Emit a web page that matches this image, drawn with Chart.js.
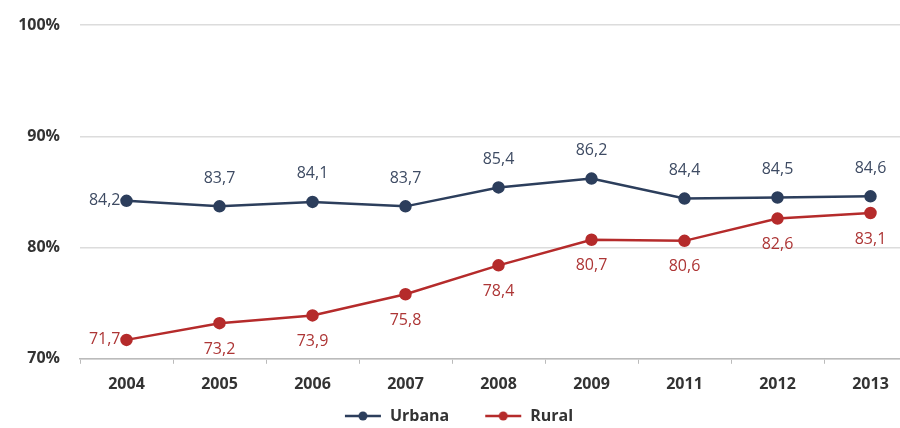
<!DOCTYPE html>
<html>
<head>
<meta charset="utf-8">
<script src="https://cdn.jsdelivr.net/npm/chart.js@4"></script>
<style>
  html, body { margin: 0; padding: 0; background: #fff; overflow: hidden; }
  #wrap { position: absolute; left: 0; top: 0; width: 925px; height: 428px; }
</style>
</head>
<body>
<div id="wrap"><canvas id="chart"></canvas></div>
<script>
var years = ["2004", "2005", "2006", "2007", "2008", "2009", "2011", "2012", "2013"];
var urbana = [84.2, 83.7, 84.1, 83.7, 85.4, 86.2, 84.4, 84.5, 84.6];
var rural = [71.7, 73.2, 73.9, 75.8, 78.4, 80.7, 80.6, 82.6, 83.1];
var yTicks = [70, 80, 90, 100];

var blue = "#2c3e5c";
var red = "#b52b2b";

function legendIcon(color) {
    var c = document.createElement("canvas");
    c.width = 38; c.height = 12;
    var ctx = c.getContext("2d");
    ctx.strokeStyle = color;
    ctx.lineWidth = 2.5;
    ctx.beginPath(); ctx.moveTo(1, 6); ctx.lineTo(37, 6); ctx.stroke();
    ctx.fillStyle = color;
    ctx.beginPath(); ctx.arc(19, 6, 4.5, 0, Math.PI * 2); ctx.fill();
    return c;
}

// draws the value labels next to each point
var valueLabels = {
    id: "valueLabels",
    afterDatasetsDraw: function (chart) {
        var ctx = chart.ctx;
        ctx.save();
        ctx.font = "16px 'Open Sans', sans-serif";
        ctx.textBaseline = "middle";
        chart.data.datasets.forEach(function (ds, di) {
            var meta = chart.getDatasetMeta(di);
            meta.data.forEach(function (pt, i) {
                var txt = ds.data[i].toFixed(1).replace(".", ",");
                ctx.fillStyle = ds.labelColor;
                if (i === 0) {
                    ctx.textAlign = "right";
                    ctx.fillText(txt, pt.x - 6, pt.y);
                } else {
                    ctx.textAlign = "center";
                    ctx.fillText(txt, pt.x, pt.y + (di === 0 ? -28 : 26));
                }
            });
        });
        ctx.restore();
    }
};

new Chart("chart", {
    type: "line",
    data: {
        labels: years,
        datasets: [{
            label: "Urbana",
            data: urbana,
            borderColor: blue,
            backgroundColor: blue,
            labelColor: "#3e4b63",
            borderWidth: 2.5,
            pointRadius: 5,
            fill: false,
            tension: 0
        }, {
            label: "Rural",
            data: rural,
            borderColor: red,
            backgroundColor: red,
            labelColor: "#ad3535",
            borderWidth: 2.5,
            pointRadius: 5,
            fill: false,
            tension: 0
        }]
    },
    options: {
        responsive: true,
        maintainAspectRatio: false,
        animation: false,
        layout: { padding: { top: 25, right: 8, left: 0, bottom: -6 } },
        plugins: {
            tooltip: { enabled: false },
            legend: {
                position: "bottom",
                labels: {
                    usePointStyle: true,
                    pointStyleWidth: 38,
                    color: "#333",
                    font: { family: "'Open Sans', sans-serif", size: 16, weight: "bold" },
                    padding: 3,
                    generateLabels: function (chart) {
                        return chart.data.datasets.map(function (ds, i) {
                            return {
                                text: i === 0 ? ds.label + "\u2003\u2003" : ds.label,
                                pointStyle: legendIcon(ds.borderColor),
                                fillStyle: ds.borderColor,
                                strokeStyle: ds.borderColor,
                                fontColor: "#333",
                                lineWidth: 0,
                                datasetIndex: i
                            };
                        });
                    }
                }
            }
        },
        scales: {
            x: {
                offset: true,
                grid: {
                    display: true,
                    drawOnChartArea: false,
                    offset: true,
                    tickLength: 5,
                    color: "#bbb"
                },
                border: { color: "#bbb", width: 1.5 },
                ticks: {
                    color: "#333",
                    padding: 11,
                    font: { family: "'Open Sans', sans-serif", size: 16, weight: "bold" }
                }
            },
            y: {
                min: 70,
                max: 100,
                afterBuildTicks: function (axis) {
                    axis.ticks = yTicks.map(function (v) { return { value: v }; });
                },
                afterFit: function (axis) {
                    axis.width = 80;
                    axis.paddingTop = 0;
                },
                border: { display: false },
                grid: { color: "#dcdcdc", lineWidth: 1.5, drawTicks: false },
                ticks: {
                    color: "#333",
                    padding: 20,
                    font: { family: "'Open Sans', sans-serif", size: 16, weight: "bold" },
                    callback: function (v) { return v + "%"; }
                }
            }
        }
    },
    plugins: [valueLabels]
});
</script>
</body>
</html>
